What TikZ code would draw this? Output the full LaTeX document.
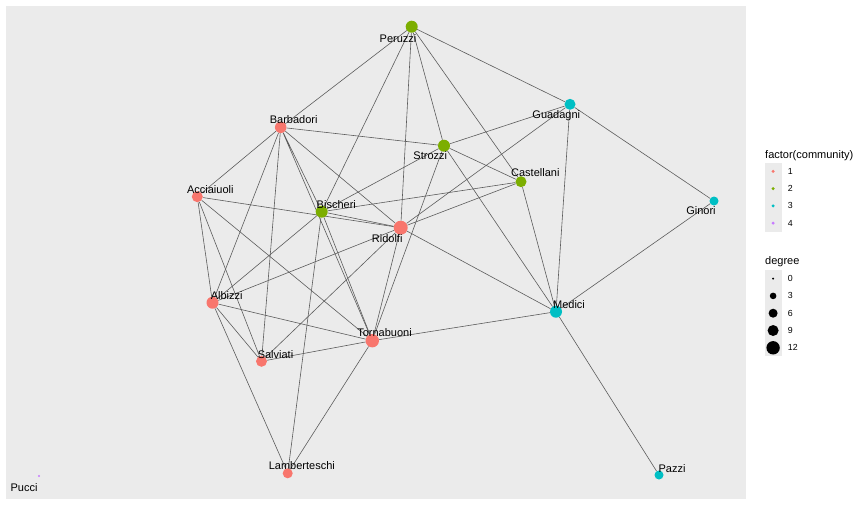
\documentclass[tikz,border=0pt]{standalone}
\usepackage{fontspec}
\setmainfont{Liberation Sans}
\usetikzlibrary{backgrounds}
\definecolor{comone}{HTML}{F8766D}
\definecolor{comtwo}{HTML}{7CAE00}
\definecolor{comthree}{HTML}{00BFC4}
\definecolor{comfour}{HTML}{C77CFF}
\definecolor{panelgrey}{HTML}{EBEBEB}
\definecolor{edgegrey}{HTML}{5C5C5C}

\begin{document}
\begin{tikzpicture}[x=1pt,y=-1pt,
    fam/.style 2 args={circle,fill=#1,inner sep=0pt,minimum size=#2},
    link/.style={edgegrey,line width=0.6pt},
    lab/.style={anchor=base,inner sep=0pt,font=\fontsize{11}{13}\selectfont},
    keytxt/.style={anchor=west,inner sep=0pt,font=\fontsize{8.8}{10}\selectfont}]
    \useasboundingbox (0,0) rectangle (864,504);

    \node[fam={comtwo}{12pt}] (peruzzi) at (411.7,26.7) {};
    \node[fam={comthree}{11pt}] (guadagni) at (570,104.3) {};
    \node[fam={comone}{11.5pt}] (barbadori) at (280.7,127.3) {};
    \node[fam={comtwo}{12pt}] (strozzi) at (444,145.7) {};
    \node[fam={comtwo}{11pt}] (castellani) at (521,181.7) {};
    \node[fam={comone}{11pt}] (acciaiuoli) at (197.3,196.7) {};
    \node[fam={comthree}{9pt}] (ginori) at (714,201) {};
    \node[fam={comtwo}{12pt}] (bischeri) at (321.7,211.7) {};
    \node[fam={comone}{14pt}] (ridolfi) at (400.7,227.7) {};
    \node[fam={comone}{12pt}] (albizzi) at (212.5,302.7) {};
    \node[fam={comthree}{12pt}] (medici) at (556,311.7) {};
    \node[fam={comone}{13.4pt}] (tornabuoni) at (372.3,340.7) {};
    \node[fam={comone}{11pt}] (salviati) at (261.5,361.3) {};
    \node[fam={comone}{10pt}] (lamberteschi) at (287.7,473.3) {};
    \node[fam={comthree}{9pt}] (pazzi) at (659,475) {};
    \node[fam={comfour}{2.4pt}] (pucci) at (39,476) {};

    \node[lab] (peruzzi-t) at (398,42) {Peruzzi};
    \node[lab] (guadagni-t) at (556.3,118.5) {Guadagni};
    \node[lab] (barbadori-t) at (293.7,123) {Barbadori};
    \node[lab] (strozzi-t) at (430.3,159.7) {Strozzi};
    \node[lab] (castellani-t) at (535.3,176.7) {Castellani};
    \node[lab] (acciaiuoli-t) at (210.3,193) {Acciaiuoli};
    \node[lab] (ginori-t) at (701,214.5) {Ginori};
    \node[lab] (bischeri-t) at (336.3,208) {Bischeri};
    \node[lab] (ridolfi-t) at (387.2,242.3) {Ridolfi};
    \node[lab] (albizzi-t) at (226.7,299.7) {Albizzi};
    \node[lab] (medici-t) at (569,308.7) {Medici};
    \node[lab] (tornabuoni-t) at (384.5,336.3) {Tornabuoni};
    \node[lab] (salviati-t) at (275.5,358) {Salviati};
    \node[lab] (lamberteschi-t) at (301.8,469.7) {Lamberteschi};
    \node[lab] (pazzi-t) at (672,472) {Pazzi};
    \node[lab] (pucci-t) at (24,491) {Pucci};

    \begin{pgfonlayer}{background}
    \fill[panelgrey] (5.5,5.5) rectangle (746,498.5);
    \draw[link] (peruzzi) -- (barbadori) (peruzzi) -- (bischeri) (peruzzi) -- (ridolfi) (peruzzi) -- (strozzi) (peruzzi) -- (castellani) (peruzzi) -- (guadagni);
    \draw[link] (guadagni) -- (ginori) (guadagni) -- (medici) (guadagni) -- (strozzi) (guadagni) -- (ridolfi);
    \draw[link] (strozzi) -- (castellani) (strozzi) -- (medici) (strozzi) -- (barbadori) (strozzi) -- (bischeri) (strozzi) -- (tornabuoni);
    \draw[link] (castellani) -- (medici) (castellani) -- (bischeri) (castellani) -- (ridolfi);
    \draw[link] (medici) -- (ridolfi) (medici) -- (tornabuoni) (medici) -- (pazzi) (medici) -- (ginori);
    \draw[link] (barbadori) -- (acciaiuoli) (barbadori) -- (salviati) (barbadori) -- (albizzi) (barbadori) -- (bischeri) (barbadori) -- (ridolfi) (barbadori) -- (tornabuoni);
    \draw[link] (acciaiuoli) -- (ridolfi) (acciaiuoli) -- (albizzi) (acciaiuoli) -- (salviati) (acciaiuoli) -- (tornabuoni);
    \draw[link] (bischeri) -- (ridolfi) (bischeri) -- (albizzi) (bischeri) -- (lamberteschi) (bischeri) -- (tornabuoni);
    \draw[link] (albizzi) -- (ridolfi) (albizzi) -- (salviati) (albizzi) -- (lamberteschi) (albizzi) -- (tornabuoni);
    \draw[link] (salviati) -- (tornabuoni) (salviati) -- (ridolfi) (lamberteschi) -- (tornabuoni) (ridolfi) -- (tornabuoni);
    \end{pgfonlayer}

    \node[anchor=base west,inner sep=0pt,font=\fontsize{11}{13}\selectfont] (comtitle) at (765,158) {factor(community)};
    \fill[panelgrey] (764.5,162.7) rectangle (781.8,231.8);
    \node[fam={comone}{3.3pt}] (comkey1) at (773.1,171.3) {};
    \node[fam={comtwo}{3.3pt}] (comkey2) at (773.1,188.6) {};
    \node[fam={comthree}{3.3pt}] (comkey3) at (773.1,205.9) {};
    \node[fam={comfour}{3.3pt}] (comkey4) at (773.1,223.2) {};
    \node[keytxt] (comlab1) at (787.7,171.3) {1};
    \node[keytxt] (comlab2) at (787.7,188.6) {2};
    \node[keytxt] (comlab3) at (787.7,205.9) {3};
    \node[keytxt] (comlab4) at (787.7,223.2) {4};

    \node[anchor=base west,inner sep=0pt,font=\fontsize{11}{13}\selectfont] (degtitle) at (765,264.7) {degree};
    \fill[panelgrey] (764.5,270) rectangle (781.8,356.4);
    \node[fam={black}{2.2pt}] (degkey0) at (773.1,278.6) {};
    \node[fam={black}{6.6pt}] (degkey3) at (773.1,295.9) {};
    \node[fam={black}{9pt}] (degkey6) at (773.1,313.2) {};
    \node[fam={black}{11pt}] (degkey9) at (773.1,330.5) {};
    \node[fam={black}{13.4pt}] (degkey12) at (773.1,347.8) {};
    \node[keytxt] (deglab0) at (787.7,278.6) {0};
    \node[keytxt] (deglab3) at (787.7,295.9) {3};
    \node[keytxt] (deglab6) at (787.7,313.2) {6};
    \node[keytxt] (deglab9) at (787.7,330.5) {9};
    \node[keytxt] (deglab12) at (787.7,347.8) {12};
\end{tikzpicture}
\end{document}
